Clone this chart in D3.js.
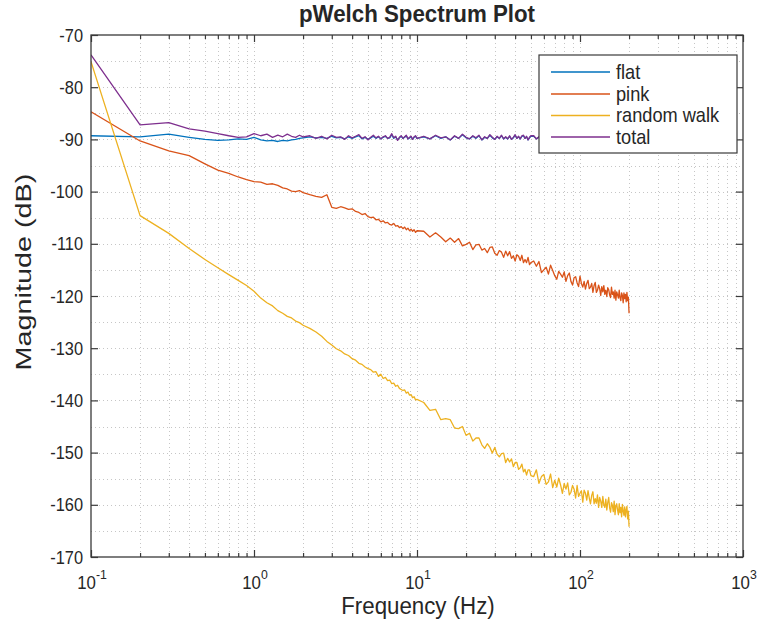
<!DOCTYPE html>
<html><head><meta charset="utf-8">
<script src="https://cdn.jsdelivr.net/npm/d3@7"></script>
<style>
body{margin:0;background:#fff}
svg{display:block}
text{font-family:"Liberation Sans",Arial,Helvetica,sans-serif;fill:#262626}
</style>
</head><body>
<svg id="chart" width="765" height="630"></svg>
<script>
// ---------- data ----------
const titleText = "pWelch Spectrum Plot";
const xLabelText = "Frequency (Hz)";
const yLabelText = "Magnitude (dB)";
const seriesNames = ["flat", "pink", "random walk", "total"];
const seriesColors = ["#0072BD", "#D95319", "#EDB120", "#7E2F8E"];
const xTickExponents = [-1, 0, 1, 2, 3];
const yTickValues = [-70, -80, -90, -100, -110, -120, -130, -140, -150, -160, -170];

// frequency grid (Hz): 0.1..2 by 0.1, 2.2..10 by 0.2, 11..50 by 1, 52..200 by 2
const freqs = [
  ...d3.range(1, 21).map(k => k / 10),
  ...d3.range(11, 51).map(k => k / 5),
  ...d3.range(11, 51),
  ...d3.range(26, 101).map(k => k * 2)
];

const flat = [
  -89.3,-89.5,-89.0,-89.6,-90.0,-90.2,-90.1,-89.9,-90.0,-89.6,-90.1,-90.3,-90.2,-90.4,-90.2,-90.3,-90.1,-90.0,-89.8,-89.7,
  -89.5,-89.7,-89.6,-89.8,-89.4,-89.7,-89.6,-89.9,-89.5,-89.8,-89.5,-89.3,-89.9,-89.6,-90.0,-89.7,-89.4,-89.8,-89.5,-89.9,
  -89.6,-89.4,-89.8,-89.7,-89.1,-89.8,-89.5,-90.1,-89.7,-89.4,-89.8,-89.6,-89.3,-89.9,-89.7,-89.5,-90.0,-89.6,-89.4,-89.8,
  -89.5,-89.9,-89.3,-89.8,-89.5,-90.1,-89.4,-89.8,-89.1,-89.7,-89.9,-89.4,-89.8,-89.3,-90.1,-89.6,-89.8,-89.2,-89.7,-90.0,
  -89.5,-89.8,-89.3,-89.9,-89.6,-89.9,-89.4,-90.0,-89.7,-89.2,-89.8,-89.5,-89.9,-89.4,-89.3,-89.8,-89.5,-90.1,-89.7,-89.4,
  -89.4,-89.9,-89.6,-89.2,-89.8,-89.5,-90.0,-89.7,-89.3,-89.9,-89.6,-89.1,-89.8,-89.4,-90.1,-89.6,-89.8,-89.3,-89.7,-90.0,
  -89.5,-89.8,-89.2,-89.9,-89.6,-89.8,-89.4,-90.0,-89.7,-89.3,-89.8,-89.5,-89.9,-89.4,-89.8,-89.6,-90.1,-89.5,-89.8,-89.3,
  -89.7,-89.9,-89.4,-89.8,-89.6,-90.0,-89.5,-89.8,-89.2,-89.8,-89.5,-89.9,-89.4,-89.7,-90.0,-89.6,-89.3,-89.8,-89.5,-89.9,
  -89.7,-89.4,-89.8,-89.6,-90.0,-89.5,-89.8,-89.3,-89.7,-89.9,-89.6,-89.4,-89.8,-89.7,-90.5
];

const pink = [
  -84.7,-90.3,-92.2,-93.1,-94.7,-95.9,-96.5,-97.2,-97.7,-98.1,-98.2,-98.6,-98.5,-98.8,-99.3,-99.5,-99.9,-100.0,-99.8,-100.2,
  -100.6,-100.9,-101.1,-100.6,-103.0,-103.2,-102.9,-103.1,-103.4,-103.3,-103.8,-104.0,-104.4,-104.2,-104.8,-105.0,-104.9,-105.4,-105.3,-105.8,
  -105.6,-106.0,-105.9,-106.3,-106.4,-106.1,-106.6,-106.5,-106.9,-106.7,-107.1,-106.8,-107.3,-107.0,-107.5,-107.2,-107.6,-107.3,-107.8,-107.5,
  -107.6,-108.7,-107.9,-108.7,-109.6,-108.9,-109.7,-109.0,-110.4,-110.1,-109.7,-111.1,-110.2,-110.1,-111.2,-110.9,-111.7,-110.7,-110.6,-111.8,
  -112.2,-111.3,-111.6,-112.6,-111.4,-112.3,-111.5,-112.8,-112.3,-113.3,-112.1,-112.4,-113.2,-112.2,-113.6,-113.0,-113.6,-112.6,-114.0,-113.6,
  -113.3,-114.3,-113.4,-115.5,-115.0,-114.5,-115.8,-114.1,-115.1,-116.1,-116.8,-115.3,-115.8,-116.4,-115.4,-117.2,-116.1,-115.6,-117.2,-117.9,
  -116.5,-116.3,-117.5,-118.2,-116.2,-117.6,-118.3,-117.2,-118.7,-117.6,-117.0,-118.6,-118.3,-117.6,-119.3,-118.0,-117.4,-119.3,-118.9,-117.9,
  -118.6,-119.9,-118.2,-119.2,-118.0,-119.7,-118.9,-120.1,-118.4,-118.8,-119.8,-120.3,-118.3,-119.7,-119.2,-120.4,-118.9,-120.8,-119.2,-119.8,
  -120.4,-118.9,-120.3,-120.9,-119.4,-119.9,-121.3,-119.4,-120.5,-119.7,-121.1,-119.3,-120.9,-120.2,-123.3
];

const randomWalk = [
  -75.1,-104.6,-108.0,-110.9,-113.0,-114.6,-115.9,-117.0,-118.0,-119.1,-120.4,-121.3,-121.9,-122.8,-123.3,-123.9,-124.2,-124.8,-125.1,-125.6,
  -126.2,-126.9,-127.7,-128.7,-129.4,-130.1,-130.5,-131.1,-131.4,-132.0,-132.3,-132.9,-133.1,-133.6,-133.9,-134.1,-134.6,-134.5,-135.4,-135.0,
  -135.8,-135.6,-136.2,-136.1,-136.8,-136.7,-137.3,-137.1,-137.7,-137.9,-138.1,-138.0,-138.6,-138.4,-139.0,-138.9,-139.5,-139.3,-139.9,-139.8,
  -140.4,-141.9,-141.7,-143.7,-143.5,-143.7,-145.3,-145.4,-145.0,-146.7,-146.3,-147.8,-147.2,-147.2,-148.5,-149.2,-148.3,-149.0,-150.1,-149.0,
  -150.3,-150.8,-150.2,-150.1,-151.9,-151.1,-151.8,-151.2,-152.7,-151.9,-151.9,-153.2,-152.9,-152.2,-153.7,-153.2,-154.3,-153.3,-153.3,-154.4,
  -154.6,-153.3,-155.9,-154.6,-154.2,-156.1,-155.6,-154.1,-156.7,-155.3,-156.6,-154.9,-156.2,-157.8,-155.9,-157.0,-155.8,-158.1,-157.6,-156.3,
  -157.0,-158.7,-156.3,-158.4,-157.8,-157.3,-159.5,-157.2,-157.8,-159.1,-157.3,-158.7,-159.8,-158.2,-157.5,-159.8,-158.8,-159.7,-158.1,-160.5,
  -158.6,-159.3,-160.5,-158.4,-160.0,-160.5,-158.9,-161.0,-159.6,-158.6,-160.6,-161.4,-159.6,-160.1,-161.3,-159.3,-161.9,-160.2,-159.8,-161.0,
  -161.9,-159.8,-161.5,-160.5,-162.3,-159.9,-161.2,-162.0,-160.4,-162.3,-161.0,-160.3,-162.7,-161.2,-164.2
];

const total = [
  -73.8,-87.2,-86.8,-88.0,-88.4,-88.9,-89.3,-89.6,-89.5,-88.9,-89.3,-89.0,-89.6,-89.2,-89.5,-89.0,-89.4,-89.6,-89.2,-89.5,
  -89.3,-89.8,-89.4,-89.9,-89.2,-89.6,-89.5,-90.0,-89.3,-89.7,-89.4,-89.1,-89.8,-89.5,-90.1,-89.6,-89.2,-89.7,-89.4,-89.9,
  -89.5,-89.3,-89.8,-89.6,-88.9,-89.7,-89.4,-90.2,-89.6,-89.3,-89.8,-89.5,-89.2,-89.9,-89.6,-89.4,-90.0,-89.5,-89.3,-89.8,
  -89.4,-89.9,-89.2,-89.7,-89.5,-90.1,-89.3,-89.8,-89.0,-89.6,-89.9,-89.3,-89.7,-89.2,-90.1,-89.5,-89.8,-89.1,-89.6,-90.0,
  -89.4,-89.8,-89.2,-89.9,-89.5,-89.9,-89.3,-90.0,-89.6,-89.1,-89.8,-89.4,-89.9,-89.3,-89.2,-89.8,-89.4,-90.1,-89.6,-89.3,
  -89.3,-89.9,-89.5,-89.1,-89.8,-89.4,-90.0,-89.6,-89.2,-89.9,-89.5,-89.0,-89.7,-89.3,-90.1,-89.5,-89.8,-89.2,-89.6,-90.0,
  -89.4,-89.7,-89.1,-89.9,-89.5,-89.8,-89.3,-90.0,-89.6,-89.2,-89.8,-89.4,-89.9,-89.3,-89.7,-89.5,-90.1,-89.4,-89.8,-89.2,
  -89.6,-89.9,-89.3,-89.7,-89.5,-90.0,-89.4,-89.8,-89.1,-89.7,-89.4,-89.9,-89.3,-89.6,-90.0,-89.5,-89.2,-89.8,-89.4,-89.9,
  -89.6,-89.3,-89.7,-89.5,-90.0,-89.4,-89.8,-89.2,-89.6,-89.9,-89.5,-89.3,-89.8,-89.6,-90.4
];

const seriesValues = [flat, pink, randomWalk, total];

// ---------- layout ----------
const plot = {left: 91, right: 743, top: 35, bottom: 557};
const SX = 0.91; // horizontal text squeeze of the reference rendering

const svg = d3.select("#chart");
const x = d3.scaleLog().domain([0.1, 1000]).range([plot.left, plot.right]);
const y = d3.scaleLinear().domain([-170, -70]).range([plot.bottom, plot.top]);

// grid
const majorX = xTickExponents.map(e => Math.pow(10, e));
const minorX = [];
for (let e = -1; e < 3; e++) for (let m = 2; m <= 9; m++) minorX.push(m * Math.pow(10, e));
const gridY = d3.range(-165, -70, 5);

const grid = svg.append("g").attr("stroke", "#c6c6c6").attr("stroke-width", 1).attr("stroke-dasharray", "1,3");
grid.selectAll("line.vx").data(minorX.concat(majorX.slice(1, -1))).join("line")
  .attr("x1", d => Math.round(x(d)) + 0.5).attr("x2", d => Math.round(x(d)) + 0.5)
  .attr("y1", plot.top).attr("y2", plot.bottom);
grid.selectAll("line.hy").data(gridY).join("line")
  .attr("x1", plot.left).attr("x2", plot.right)
  .attr("y1", d => Math.round(y(d)) + 0.5).attr("y2", d => Math.round(y(d)) + 0.5);

// lines
svg.append("defs").append("clipPath").attr("id", "clip").append("rect")
  .attr("x", plot.left).attr("y", plot.top).attr("width", plot.right - plot.left).attr("height", plot.bottom - plot.top);

const line = d3.line().x(d => x(d[0])).y(d => y(d[1])).defined(d => d[1] != null);
const linesG = svg.append("g").attr("clip-path", "url(#clip)");
seriesValues.forEach((vals, i) => {
  linesG.append("path")
    .datum(freqs.map((f, k) => [f, vals[k]]))
    .attr("fill", "none")
    .attr("stroke", seriesColors[i])
    .attr("stroke-width", 1.3)
    .attr("stroke-linejoin", "round")
    .attr("d", line);
});

// axes (ticks inside)
const axisColor = "#3a3a3a";
const axB = d3.axisBottom(x).tickValues(majorX).tickSize(-7).tickFormat("");
const axBm = d3.axisBottom(x).tickValues(minorX).tickSize(-4).tickFormat("");
const axT = d3.axisTop(x).tickValues(majorX).tickSize(-7).tickFormat("");
const axTm = d3.axisTop(x).tickValues(minorX).tickSize(-4).tickFormat("");
const axL = d3.axisLeft(y).tickValues(yTickValues).tickSize(-7).tickFormat("");
const axR = d3.axisRight(y).tickValues(yTickValues).tickSize(-7).tickFormat("");
function styleAxis(g) { g.select(".domain").remove(); g.selectAll(".tick line").attr("stroke", axisColor).attr("stroke-width", 1.2); }
svg.append("g").attr("transform", `translate(0,${plot.bottom})`).call(axB).call(styleAxis);
svg.append("g").attr("transform", `translate(0,${plot.bottom})`).call(axBm).call(styleAxis);
svg.append("g").attr("transform", `translate(0,${plot.top})`).call(axT).call(styleAxis);
svg.append("g").attr("transform", `translate(0,${plot.top})`).call(axTm).call(styleAxis);
svg.append("g").attr("transform", `translate(${plot.left},0)`).call(axL).call(styleAxis);
svg.append("g").attr("transform", `translate(${plot.right},0)`).call(axR).call(styleAxis);
svg.append("rect").attr("x", plot.left).attr("y", plot.top)
  .attr("width", plot.right - plot.left).attr("height", plot.bottom - plot.top)
  .attr("fill", "none").attr("stroke", axisColor).attr("stroke-width", 1.3);

// tick labels
function squeezedText(g, px, py, str, opts) {
  const t = g.append("g").attr("transform", `translate(${px},${py})`)
    .append("text").attr("transform", `scale(${SX},1)`)
    .attr("text-anchor", opts.anchor || "middle")
    .attr("font-size", opts.size || 18)
    .attr("font-weight", opts.weight || "normal");
  if (str != null) t.text(str);
  return t;
}
const labels = svg.append("g");
yTickValues.forEach(v => {
  squeezedText(labels, 83, y(v) + 6.5, String(v), {anchor: "end", size: 18});
});
xTickExponents.forEach(e => {
  const t = squeezedText(labels, x(Math.pow(10, e)) + 1, 589, null, {anchor: "middle", size: 18.5});
  t.append("tspan").text("10");
  t.append("tspan").attr("dy", -10).attr("font-size", 13.5).text(String(e));
});

// axis titles
squeezedText(svg, 418, 614, xLabelText, {size: 24.5});
svg.append("text")
  .attr("transform", `translate(31,272) rotate(-90) scale(1.2,${SX})`)
  .attr("text-anchor", "middle").attr("font-size", 24).text(yLabelText);
squeezedText(svg, 417, 22, titleText, {size: 24.5, weight: "bold"});

// legend
const lg = {x: 539, y: 55, w: 198, h: 98};
const legend = svg.append("g");
legend.append("rect").attr("x", lg.x).attr("y", lg.y).attr("width", lg.w).attr("height", lg.h)
  .attr("fill", "#fff").attr("stroke", axisColor).attr("stroke-width", 1.2);
const rowY = [72, 94, 115.5, 137];
seriesNames.forEach((name, i) => {
  legend.append("line").attr("x1", 551).attr("x2", 610).attr("y1", rowY[i]).attr("y2", rowY[i])
    .attr("stroke", seriesColors[i]).attr("stroke-width", 1.3);
  squeezedText(legend, 616, rowY[i] + 6.5, name, {anchor: "start", size: 20});
});
</script>
</body></html>
